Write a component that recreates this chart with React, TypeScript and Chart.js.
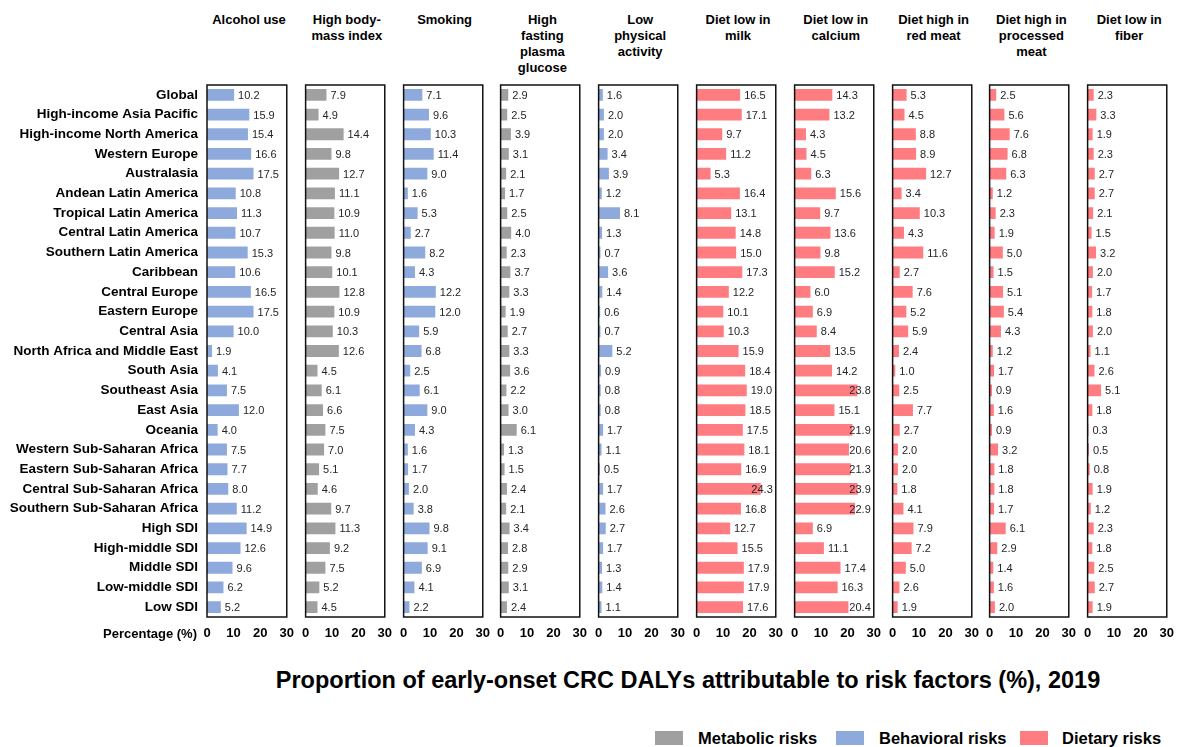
import React, { useEffect, useRef } from "react";
import { Chart, registerables } from "chart.js";

Chart.register(...registerables);

const FONT = '"Liberation Sans", Arial, Helvetica, sans-serif';

const CATEGORIES = [
  "Global",
  "High-income Asia Pacific",
  "High-income North America",
  "Western Europe",
  "Australasia",
  "Andean Latin America",
  "Tropical Latin America",
  "Central Latin America",
  "Southern Latin America",
  "Caribbean",
  "Central Europe",
  "Eastern Europe",
  "Central Asia",
  "North Africa and Middle East",
  "South Asia",
  "Southeast Asia",
  "East Asia",
  "Oceania",
  "Western Sub-Saharan Africa",
  "Eastern Sub-Saharan Africa",
  "Central Sub-Saharan Africa",
  "Southern Sub-Saharan Africa",
  "High SDI",
  "High-middle SDI",
  "Middle SDI",
  "Low-middle SDI",
  "Low SDI",
];

const ALCOHOL = [10.2, 15.9, 15.4, 16.6, 17.5, 10.8, 11.3, 10.7, 15.3, 10.6, 16.5, 17.5, 10.0, 1.9, 4.1, 7.5, 12.0, 4.0, 7.5, 7.7, 8.0, 11.2, 14.9, 12.6, 9.6, 6.2, 5.2];
const HIGH_BMI = [7.9, 4.9, 14.4, 9.8, 12.7, 11.1, 10.9, 11.0, 9.8, 10.1, 12.8, 10.9, 10.3, 12.6, 4.5, 6.1, 6.6, 7.5, 7.0, 5.1, 4.6, 9.7, 11.3, 9.2, 7.5, 5.2, 4.5];
const SMOKING = [7.1, 9.6, 10.3, 11.4, 9.0, 1.6, 5.3, 2.7, 8.2, 4.3, 12.2, 12.0, 5.9, 6.8, 2.5, 6.1, 9.0, 4.3, 1.6, 1.7, 2.0, 3.8, 9.8, 9.1, 6.9, 4.1, 2.2];
const HIGH_FPG = [2.9, 2.5, 3.9, 3.1, 2.1, 1.7, 2.5, 4.0, 2.3, 3.7, 3.3, 1.9, 2.7, 3.3, 3.6, 2.2, 3.0, 6.1, 1.3, 1.5, 2.4, 2.1, 3.4, 2.8, 2.9, 3.1, 2.4];
const LOW_ACTIVITY = [1.6, 2.0, 2.0, 3.4, 3.9, 1.2, 8.1, 1.3, 0.7, 3.6, 1.4, 0.6, 0.7, 5.2, 0.9, 0.8, 0.8, 1.7, 1.1, 0.5, 1.7, 2.6, 2.7, 1.7, 1.3, 1.4, 1.1];
const LOW_MILK = [16.5, 17.1, 9.7, 11.2, 5.3, 16.4, 13.1, 14.8, 15.0, 17.3, 12.2, 10.1, 10.3, 15.9, 18.4, 19.0, 18.5, 17.5, 18.1, 16.9, 24.3, 16.8, 12.7, 15.5, 17.9, 17.9, 17.6];
const LOW_CALCIUM = [14.3, 13.2, 4.3, 4.5, 6.3, 15.6, 9.7, 13.6, 9.8, 15.2, 6.0, 6.9, 8.4, 13.5, 14.2, 23.8, 15.1, 21.9, 20.6, 21.3, 23.9, 22.9, 6.9, 11.1, 17.4, 16.3, 20.4];
const HIGH_RED_MEAT = [5.3, 4.5, 8.8, 8.9, 12.7, 3.4, 10.3, 4.3, 11.6, 2.7, 7.6, 5.2, 5.9, 2.4, 1.0, 2.5, 7.7, 2.7, 2.0, 2.0, 1.8, 4.1, 7.9, 7.2, 5.0, 2.6, 1.9];
const HIGH_PROCESSED_MEAT = [2.5, 5.6, 7.6, 6.8, 6.3, 1.2, 2.3, 1.9, 5.0, 1.5, 5.1, 5.4, 4.3, 1.2, 1.7, 0.9, 1.6, 0.9, 3.2, 1.8, 1.8, 1.7, 6.1, 2.9, 1.4, 1.6, 2.0];
const LOW_FIBER = [2.3, 3.3, 1.9, 2.3, 2.7, 2.7, 2.1, 1.5, 3.2, 2.0, 1.7, 1.8, 2.0, 1.1, 2.6, 5.1, 1.8, 0.3, 0.5, 0.8, 1.9, 1.2, 2.3, 1.8, 2.5, 2.7, 1.9];

const X_TICKS = [0, 10, 20, 30];

const GROUP_COLORS: Record<string, string> = {
  metabolic: "#A0A0A0",
  behavioral: "#8EA9DB",
  dietary: "#FF7C80",
};

const LEGEND_ITEMS = [
  { label: "Metabolic risks", group: "metabolic" },
  { label: "Behavioral risks", group: "behavioral" },
  { label: "Dietary risks", group: "dietary" },
];

const PANELS = [
  { title: ["Alcohol use"], data: ALCOHOL, group: "behavioral" },
  { title: ["High body-", "mass index"], data: HIGH_BMI, group: "metabolic" },
  { title: ["Smoking"], data: SMOKING, group: "behavioral" },
  { title: ["High", "fasting", "plasma", "glucose"], data: HIGH_FPG, group: "metabolic" },
  { title: ["Low", "physical", "activity"], data: LOW_ACTIVITY, group: "behavioral" },
  { title: ["Diet low in", "milk"], data: LOW_MILK, group: "dietary" },
  { title: ["Diet low in", "calcium"], data: LOW_CALCIUM, group: "dietary" },
  { title: ["Diet high in", "red meat"], data: HIGH_RED_MEAT, group: "dietary" },
  { title: ["Diet high in", "processed", "meat"], data: HIGH_PROCESSED_MEAT, group: "dietary" },
  { title: ["Diet low in", "fiber"], data: LOW_FIBER, group: "dietary" },
];

const MAIN_TITLE = "Proportion of early-onset CRC DALYs attributable to risk factors (%), 2019";
const AXIS_LABEL = "Percentage (%)";

// layout
const FIRST_LEFT = 207;
const PANEL_STEP = 97.8;
const BOX_W = 84;
const BOX_TOP = 85;
const BOX_BOTTOM = 617;
const SIDE_PAD = 12;
const X_AXIS_H = 30;
const CANVAS_TOP = BOX_TOP - 4;
const CANVAS_H = BOX_BOTTOM - CANVAS_TOP + X_AXIS_H;
const LEGEND_SWATCH_X = [655, 836, 1020];
const LEGEND_TEXT_X = [698, 879, 1062];

const boxPlugin = {
  id: "boxPlugin",
  afterDraw(chart: any) {
    const { ctx, chartArea } = chart;
    ctx.save();
    ctx.strokeStyle = "#111";
    ctx.lineWidth = 1.5;
    ctx.strokeRect(chartArea.left, chartArea.top, chartArea.right - chartArea.left, chartArea.bottom - chartArea.top);
    ctx.restore();
  },
};

const valueLabelPlugin = {
  id: "valueLabelPlugin",
  afterDatasetsDraw(chart: any) {
    const { ctx, chartArea } = chart;
    const meta = chart.getDatasetMeta(0);
    const data = chart.data.datasets[0].data as number[];
    ctx.save();
    ctx.font = `11px ${FONT}`;
    ctx.fillStyle = "#262626";
    ctx.textAlign = "left";
    ctx.textBaseline = "middle";
    meta.data.forEach((bar: any, i: number) => {
      const txt = data[i].toFixed(1);
      const w = ctx.measureText(txt).width;
      const x = Math.min(bar.x + 4, chartArea.right - 3 - w);
      ctx.fillText(txt, x, bar.y + 1);
    });
    ctx.restore();
  },
};

function panelLeft(i: number) {
  return FIRST_LEFT + i * PANEL_STEP;
}

function canvasGeom(i: number) {
  if (i === 0) {
    return { left: 0, width: FIRST_LEFT + BOX_W + SIDE_PAD };
  }
  return { left: panelLeft(i) - SIDE_PAD, width: BOX_W + 2 * SIDE_PAD };
}

export default function App() {
  const refs = useRef<(HTMLCanvasElement | null)[]>([]);

  useEffect(() => {
    Chart.defaults.font.family = FONT;
    const charts = PANELS.map((p, i) => {
      const canvas = refs.current[i]!;
      const first = i === 0;
      const leftPad = first ? 0 : SIDE_PAD;
      return new Chart(canvas, {
        type: "bar",
        data: {
          labels: CATEGORIES,
          datasets: [
            {
              data: p.data,
              backgroundColor: GROUP_COLORS[p.group],
              borderWidth: 0,
              barPercentage: 0.6,
              categoryPercentage: 1,
            },
          ],
        },
        options: {
          indexAxis: "y",
          responsive: false,
          animation: false,
          devicePixelRatio: 1,
          layout: { padding: { top: BOX_TOP - CANVAS_TOP, left: leftPad, right: SIDE_PAD, bottom: 0 } },
          plugins: {
            legend: { display: false },
            tooltip: { enabled: false },
            title: { display: false },
          },
          scales: {
            x: {
              type: "linear",
              min: 0,
              max: 30,
              afterBuildTicks(scale: any) {
                scale.ticks = X_TICKS.map((v) => ({ value: v }));
              },
              afterFit(scale: any) {
                scale.height = X_AXIS_H;
              },
              grid: { display: false, drawTicks: false },
              border: { display: false },
              ticks: {
                padding: 9,
                color: "#000",
                font: { size: 13, weight: "bold", family: FONT },
                maxRotation: 0,
              },
            },
            y: {
              type: "category",
              display: first,
              afterFit(scale: any) {
                if (first) scale.width = FIRST_LEFT;
                scale.paddingTop = 0;
                scale.paddingBottom = 0;
              },
              grid: { display: false, drawTicks: false },
              border: { display: false },
              ticks: {
                autoSkip: false,
                padding: 9,
                color: "#000",
                font: { size: 13.5, weight: "bold", family: FONT },
              },
            },
          },
        },
        plugins: [valueLabelPlugin, boxPlugin],
      } as any);
    });
    return () => charts.forEach((c) => c.destroy());
  }, []);

  return (
    <div
      style={{
        position: "absolute",
        left: 0,
        top: 0,
        width: 1178,
        height: 747,
        overflow: "hidden",
        background: "#fff",
        fontFamily: FONT,
        color: "#000",
      }}
    >
      {PANELS.map((p, i) => (
        <div
          key={"t" + i}
          style={{
            position: "absolute",
            left: panelLeft(i) + BOX_W / 2 - 60,
            width: 120,
            top: 12,
            textAlign: "center",
            fontWeight: "bold",
            fontSize: 13,
            lineHeight: "16px",
          }}
        >
          {p.title.map((line, k) => (
            <div key={k}>{line}</div>
          ))}
        </div>
      ))}
      {PANELS.map((p, i) => {
        const g = canvasGeom(i);
        return (
          <canvas
            key={"c" + i}
            ref={(el) => {
              refs.current[i] = el;
            }}
            width={g.width}
            height={CANVAS_H}
            style={{ position: "absolute", left: g.left, top: CANVAS_TOP, width: g.width, height: CANVAS_H }}
          />
        );
      })}
      <div
        style={{
          position: "absolute",
          right: 1178 - 197,
          top: 626,
          fontWeight: "bold",
          fontSize: 13,
          lineHeight: "16px",
          whiteSpace: "nowrap",
        }}
      >
        {AXIS_LABEL}
      </div>
      <div
        style={{
          position: "absolute",
          left: 188,
          width: 1000,
          top: 665,
          textAlign: "center",
          fontWeight: "bold",
          fontSize: 23.5,
          lineHeight: "30px",
          whiteSpace: "nowrap",
        }}
      >
        {MAIN_TITLE}
      </div>
      {LEGEND_ITEMS.map((it, k) => (
        <React.Fragment key={"l" + k}>
          <div
            style={{
              position: "absolute",
              left: LEGEND_SWATCH_X[k],
              top: 731,
              width: 28,
              height: 14,
              background: GROUP_COLORS[it.group],
            }}
          />
          <div
            style={{
              position: "absolute",
              left: LEGEND_TEXT_X[k],
              top: 728,
              fontWeight: "bold",
              fontSize: 16.5,
              lineHeight: "20px",
              whiteSpace: "nowrap",
            }}
          >
            {it.label}
          </div>
        </React.Fragment>
      ))}
    </div>
  );
}
